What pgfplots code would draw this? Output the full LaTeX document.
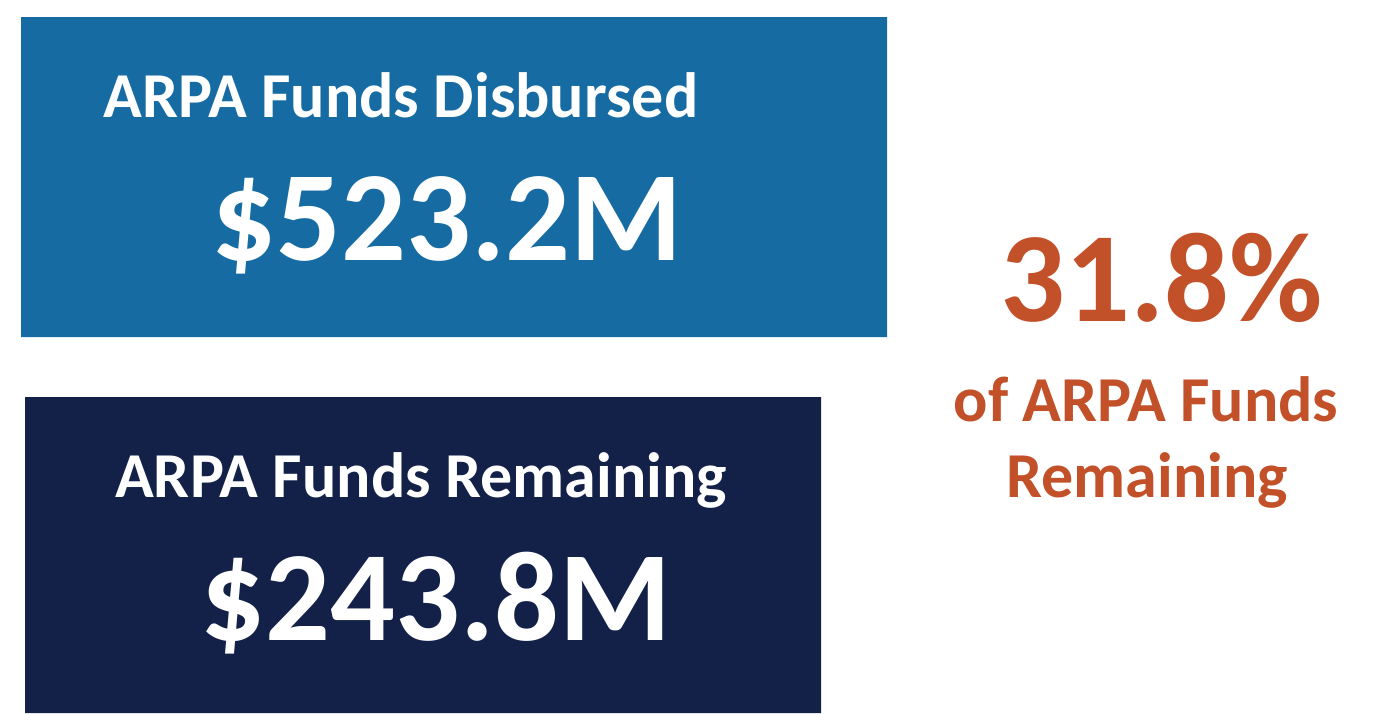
\documentclass[border=0pt]{standalone}
\usepackage{pgfplots}
\pgfplotsset{compat=1.18}
\usepackage{fontspec}
\setmainfont{Carlito}
\definecolor{boxblue}{HTML}{166BA3}
\definecolor{boxnavy}{HTML}{132149}
\definecolor{accent}{HTML}{C2512A}
\begin{document}
\begin{tikzpicture}
\begin{axis}[
  scale only axis, width=1375pt, height=713pt,
  xmin=0, xmax=1375, ymin=0, ymax=713, y dir=reverse,
  hide axis, clip=false,
]
% page background
\addplot[fill=white, draw=none] coordinates {(0,0) (1375,0) (1375,713) (0,713) (0,0)};
% Disbursed box
\addplot[fill=boxblue, draw=none] coordinates {(21,17) (887,17) (887,337) (21,337) (21,17)};
% Remaining box
\addplot[fill=boxnavy, draw=none] coordinates {(25,397) (821,397) (821,713) (25,713) (25,397)};

\node[anchor=base, inner sep=0pt, text=white, font=\bfseries\fontsize{64}{70}\selectfont] at (axis cs:401,117) {ARPA Funds Disbursed};
\node[anchor=base, inner sep=0pt, text=white, font=\bfseries\fontsize{128}{130}\selectfont] at (axis cs:447,260) {\$523.2M};

\node[anchor=base, inner sep=0pt, text=white, font=\bfseries\fontsize{64}{70}\selectfont] at (axis cs:421,497) {ARPA Funds Remaining};
\node[anchor=base, inner sep=0pt, text=white, font=\bfseries\fontsize{128}{130}\selectfont] at (axis cs:436,640) {\$243.8M};

\node[anchor=base, inner sep=0pt, text=accent, font=\bfseries\fontsize{128}{130}\selectfont] at (axis cs:1162,321) {31.8\%};
\node[anchor=base, inner sep=0pt, text=accent, font=\bfseries\fontsize{64}{70}\selectfont] at (axis cs:1146,421) {of ARPA Funds};
\node[anchor=base, inner sep=0pt, text=accent, font=\bfseries\fontsize{64}{70}\selectfont] at (axis cs:1147,497) {Remaining};
\end{axis}
\end{tikzpicture}
\end{document}
